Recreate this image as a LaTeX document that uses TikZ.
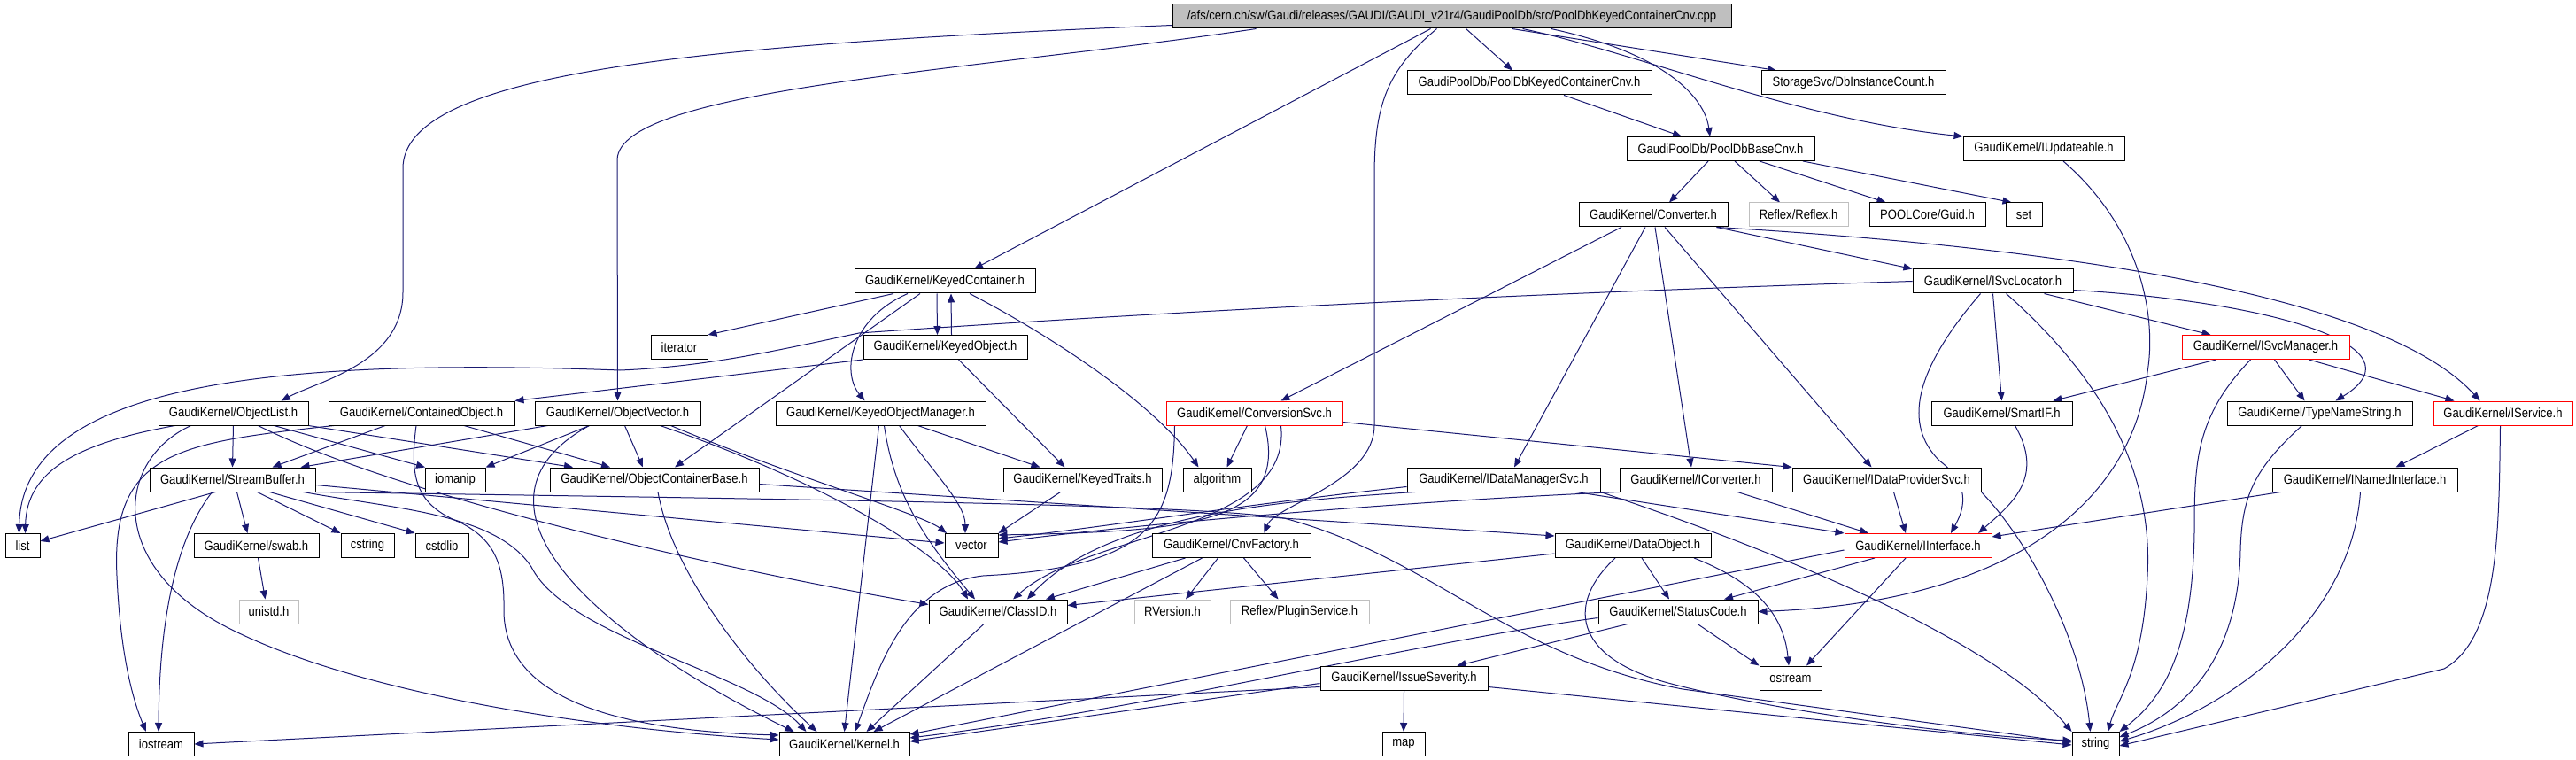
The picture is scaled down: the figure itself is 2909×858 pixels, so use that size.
\documentclass[tikz,border=0pt]{standalone}
\usepackage{fontspec}
\setmainfont{Liberation Sans}[FakeStretch=0.87]
\usetikzlibrary{arrows.meta}
\definecolor{edgeblue}{RGB}{25,25,112}
\definecolor{rootgray}{RGB}{191,191,191}
\definecolor{nodocgray}{RGB}{191,191,191}
\pgfdeclarelayer{bg}
\pgfsetlayers{bg,main}
\begin{document}
\begin{tikzpicture}[
    x=1pt, y=-1pt,
    font=\fontsize{15}{18}\selectfont,
    inc/.style={
        draw,
        line width=1pt,
        fill=white,
        inner sep=0pt,
        minimum height=27pt,
        minimum width=#1
    },
    truncated/.style={inc=#1, draw=red},
    nodoc/.style={inc=#1, draw=nodocgray},
    dep/.style={draw=edgeblue, line width=1pt, -{Triangle[length=10pt,width=8pt]}}
]
    \useasboundingbox (0,0) rectangle (2909,858);

    \node[inc=631pt, fill=rootgray] (root) at (1639.5,18.5)
        {/afs/cern.ch/sw/Gaudi/releases/GAUDI/GAUDI\_v21r4/GaudiPoolDb/src/PoolDbKeyedContainerCnv.cpp};
    \node[inc=276pt] (pkcnvh) at (1727,93.5) {GaudiPoolDb/PoolDbKeyedContainerCnv.h};
    \node[inc=208pt] (dbinst) at (2093,93.5) {StorageSvc/DbInstanceCount.h};
    \node[inc=212pt] (basecnv) at (1943,168) {GaudiPoolDb/PoolDbBaseCnv.h};
    \node[inc=182pt] (iupd) at (2308,168) {GaudiKernel/IUpdateable.h};
    \node[inc=168pt] (converter) at (1867,242.5) {GaudiKernel/Converter.h};
    \node[nodoc=112pt] (reflex) at (2031,242.5) {Reflex/Reflex.h};
    \node[inc=131pt] (guid) at (2176.5,242.5) {POOLCore/Guid.h};
    \node[inc=41pt] (set) at (2285.5,242.5) {set};
    \node[inc=204pt] (keyedcont) at (1067,317.5) {GaudiKernel/KeyedContainer.h};
    \node[inc=181pt] (svcloc) at (2250.5,317.5) {GaudiKernel/ISvcLocator.h};
    \node[inc=64pt] (iterator) at (767,392) {iterator};
    \node[inc=185pt] (keyedobj) at (1067.5,392) {GaudiKernel/KeyedObject.h};
    \node[truncated=189pt] (svcmgr) at (2558.5,392) {GaudiKernel/ISvcManager.h};
    \node[inc=169pt] (objlist) at (263.5,466.5) {GaudiKernel/ObjectList.h};
    \node[inc=210pt] (containedobj) at (476,466.5) {GaudiKernel/ContainedObject.h};
    \node[inc=187pt] (objvector) at (697.5,466.5) {GaudiKernel/ObjectVector.h};
    \node[inc=237pt] (kom) at (994.5,466.5) {GaudiKernel/KeyedObjectManager.h};
    \node[truncated=199pt] (convsvc) at (1416.5,466.5) {GaudiKernel/ConversionSvc.h};
    \node[inc=159pt] (smartif) at (2260.5,466.5) {GaudiKernel/SmartIF.h};
    \node[inc=209pt] (typename) at (2619.5,466.5) {GaudiKernel/TypeNameString.h};
    \node[truncated=157pt] (iservice) at (2826.5,466.5) {GaudiKernel/IService.h};
    \node[inc=187pt] (streambuf) at (262.5,541.5) {GaudiKernel/StreamBuffer.h};
    \node[inc=68pt] (iomanip) at (514,541.5) {iomanip};
    \node[inc=236pt] (ocb) at (739,541.5) {GaudiKernel/ObjectContainerBase.h};
    \node[inc=179pt] (keyedtraits) at (1222.5,541.5) {GaudiKernel/KeyedTraits.h};
    \node[inc=77pt] (algorithm) at (1374.5,541.5) {algorithm};
    \node[inc=218pt] (idms) at (1698,541.5) {GaudiKernel/IDataManagerSvc.h};
    \node[inc=172pt] (iconv) at (1915,541.5) {GaudiKernel/IConverter.h};
    \node[inc=213pt] (idps) at (2130.5,541.5) {GaudiKernel/IDataProviderSvc.h};
    \node[inc=209pt] (inamed) at (2670.5,541.5) {GaudiKernel/INamedInterface.h};
    \node[inc=39pt] (list) at (25.5,616) {list};
    \node[inc=141pt] (swab) at (289.5,616) {GaudiKernel/swab.h};
    \node[inc=60pt] (cstring) at (415,616) {cstring};
    \node[inc=60pt] (cstdlib) at (499,616) {cstdlib};
    \node[inc=60pt] (vector) at (1097,616) {vector};
    \node[inc=179pt] (cnvfactory) at (1390.5,616) {GaudiKernel/CnvFactory.h};
    \node[inc=176pt] (dataobj) at (1844,616) {GaudiKernel/DataObject.h};
    \node[truncated=166pt] (iinterface) at (2166,616) {GaudiKernel/IInterface.h};
    \node[nodoc=67pt] (unistd) at (303.5,690.5) {unistd.h};
    \node[inc=156pt] (classid) at (1127,690.5) {GaudiKernel/ClassID.h};
    \node[nodoc=86pt] (rversion) at (1324,690.5) {RVersion.h};
    \node[nodoc=157pt] (plugin) at (1467.5,690.5) {Reflex/PluginService.h};
    \node[inc=180pt] (statuscode) at (1895,690.5) {GaudiKernel/StatusCode.h};
    \node[inc=189pt] (issue) at (1585.5,765.5) {GaudiKernel/IssueSeverity.h};
    \node[inc=70pt] (ostream) at (2022,765.5) {ostream};
    \node[inc=74pt] (iostream) at (182,840) {iostream};
    \node[inc=147pt] (kernel) at (953.5,840) {GaudiKernel/Kernel.h};
    \node[inc=48pt] (map) at (1585,840) {map};
    \node[inc=53pt] (string) at (2366.5,840) {string};

    \begin{pgfonlayer}{bg}
    % source file
    \draw[dep] ([xshift=16pt]root.south) -- ([xshift=-19pt]pkcnvh.north);
    \draw[dep] ([xshift=-24pt]root.south) -- ([xshift=33pt]keyedcont.north);
    \draw[dep] ([xshift=68pt]root.south) -- ([xshift=-87pt]dbinst.north);
    \draw[dep] ([xshift=112pt]root.south) .. controls (1880,60) and (1925,110) .. ([xshift=-12pt]basecnv.north);
    \draw[dep] ([xshift=80pt]root.south) .. controls (1850,60) and (2030,135) .. (iupd.north west);
    \draw[dep] ([yshift=-10pt]root.west) .. controls (800,50) and (455,80) .. (455,190)
        -- (455,330) .. controls (455,410) and (360,430) .. ([xshift=54pt]objlist.north);
    \draw[dep] ([xshift=-221pt]root.south) .. controls (1100,80) and (700,100) .. (697,180) -- (objvector.north);
    \draw[dep] ([xshift=-17pt]root.south) .. controls (1565,80) and (1552,120) .. (1552,200)
        -- (1552,480) .. controls (1552,545) and (1440,570) .. ([xshift=37pt]cnvfactory.north);

    % pool converters
    \draw[dep] ([xshift=39pt]pkcnvh.south) -- ([xshift=-44pt]basecnv.north);
    \draw[dep] ([xshift=-14pt]basecnv.south) -- ([xshift=18pt]converter.north);
    \draw[dep] ([xshift=16pt]basecnv.south) -- ([xshift=-21pt]reflex.north);
    \draw[dep] ([xshift=44pt]basecnv.south) -- ([xshift=-47pt]guid.north);
    \draw[dep] ([xshift=93pt]basecnv.south) -- ([xshift=-14pt]set.north);
    \draw[dep] ([xshift=22pt]iupd.south) .. controls (2420,260) and (2435,360) .. (2425,420)
        .. controls (2410,560) and (2280,680) .. (statuscode.east);
    \draw[dep] ([xshift=-36pt]converter.south) -- ([xshift=30pt]convsvc.north);
    \draw[dep] ([xshift=-9pt]converter.south) -- ([xshift=12pt]idms.north);
    \draw[dep] ([xshift=2pt]converter.south) -- ([xshift=-5pt]iconv.north);
    \draw[dep] ([xshift=13pt]converter.south) -- ([xshift=-17pt]idps.north);
    \draw[dep] ([xshift=-13pt]converter.south east) -- (svcloc.north west);
    \draw[dep] ([xshift=-13pt]converter.south east) .. controls (2250,275) and (2680,320) .. ([xshift=-26pt]iservice.north);

    % keyed container
    \draw[dep] ([xshift=-58pt]keyedcont.south) -- (iterator.north east);
    \draw[dep] ([xshift=-42pt]keyedcont.south) .. controls (960,360) and (950,420) .. ([xshift=-18pt]kom.north);
    \draw[dep] ([xshift=-28pt]keyedcont.south) -- ([xshift=23pt]ocb.north);
    \draw[dep] ([xshift=-9pt]keyedcont.south) -- ([xshift=-9pt]keyedobj.north);
    \draw[dep] ([xshift=28pt]keyedcont.south) .. controls (1170,370) and (1300,450) .. ([xshift=-21pt]algorithm.north);
    \draw[dep] ([xshift=7pt]keyedobj.north) -- ([xshift=7pt]keyedcont.south);
    \draw[dep] ([xshift=15pt]keyedobj.south) -- ([xshift=-20pt]keyedtraits.north);
    \draw[dep] (keyedobj.south west) -- (containedobj.north east);

    % services
    \draw[dep] (svcloc.west) .. controls (1600,335) and (1200,360) .. (970,376)
        .. controls (880,395) and (800,414) .. (700,418)
        .. controls (320,404) and (25,430) .. ([xshift=-4pt]list.north);
    \draw[dep] ([xshift=-14pt]svcloc.south) .. controls (2160,420) and (2150,480) .. (2190,520)
        .. controls (2230,550) and (2215,580) .. ([xshift=37pt]iinterface.north);
    \draw[dep] (svcloc.south) -- (smartif.north);
    \draw[dep] ([xshift=15pt]svcloc.south) .. controls (2400,450) and (2430,560) .. (2425,650)
        .. controls (2420,760) and (2390,790) .. ([xshift=14pt]string.north);
    \draw[dep] ([xshift=58pt]svcloc.south) -- ([xshift=-62pt]svcmgr.north);
    \draw[dep] ([yshift=-10pt]svcloc.east) .. controls (2560,340) and (2740,390) .. ([xshift=18pt]typename.north);
    \draw[dep] ([xshift=-56pt]svcmgr.south) -- ([xshift=58pt]smartif.north);
    \draw[dep] ([xshift=10pt]svcmgr.south) -- ([xshift=-17pt]typename.north);
    \draw[dep] ([xshift=49pt]svcmgr.south) -- ([xshift=-55pt]iservice.north);
    \draw[dep] ([xshift=-17pt]svcmgr.south) .. controls (2480,470) and (2478,520) .. (2478,600)
        .. controls (2476,740) and (2440,790) .. (string.north east);
    \draw[dep] ([xshift=-20pt]typename.south) .. controls (2545,530) and (2532,560) .. (2530,620)
        .. controls (2528,760) and (2450,810) .. ([yshift=8pt]string.east);
    \draw[dep] ([xshift=-28pt]iservice.south) -- ([xshift=35pt]inamed.north);
    \draw[dep] ([xshift=-3pt]iservice.south) .. controls (2822,600) and (2822,720) .. (2760,755)
        -- ([yshift=-2pt]string.east);
    \draw[dep] ([xshift=-95pt]inamed.south) -- ([yshift=-4pt]iinterface.north east);
    \draw[dep] ([xshift=-5pt]inamed.south) .. controls (2655,700) and (2520,800) .. ([yshift=3pt]string.east);
    \draw[dep] ([xshift=15pt]smartif.south) .. controls (2310,540) and (2270,570) .. ([xshift=68pt]iinterface.north);
    \draw[dep] ([xshift=8pt]idps.south) -- ([xshift=-14pt]iinterface.north);
    \draw[dep] (idps.south east) .. controls (2290,610) and (2350,720) .. ([xshift=-6pt]string.north);
    \draw[dep] ([xshift=47pt]iconv.south) -- ([xshift=-56pt]iinterface.north);
    \draw[dep] (iconv.south west) .. controls (1600,565) and (1300,590) .. ([yshift=4pt]vector.east);
    \draw[dep] ([yshift=-8pt]idms.west) .. controls (1400,570) and (1250,595) .. ([yshift=8pt]vector.east);
    \draw[dep] ([xshift=82pt]idms.south) -- (iinterface.north west);
    \draw[dep] ([xshift=-100pt]idms.south) .. controls (1450,565) and (1250,580) .. ([xshift=33pt]classid.north);
    \draw[dep] (idms.south east) .. controls (2000,620) and (2250,720) .. (string.north west);
    \draw[dep] ([xshift=-8pt]convsvc.south) -- ([xshift=11pt]algorithm.north);
    \draw[dep] ([xshift=12pt]convsvc.south) .. controls (1455,590) and (1350,600) .. ([yshift=12pt]vector.east);
    \draw[dep] ([xshift=30pt]convsvc.south) .. controls (1460,600) and (1230,600) .. ([xshift=17pt]classid.north);
    \draw[dep] ([xshift=-90pt]convsvc.south) .. controls (1325,590) and (1300,640) .. (1110,650)
        .. controls (1020,660) and (990,760) .. ([xshift=12pt]kernel.north);
    \draw[dep] ([yshift=-10pt]convsvc.east) -- (idps.north west);

    % factory, data object, status code
    \draw[dep] ([xshift=-52pt]cnvfactory.south) -- ([xshift=54pt]classid.north);
    \draw[dep] ([xshift=-33pt]cnvfactory.south) -- ([xshift=33pt]kernel.north);
    \draw[dep] ([xshift=-15pt]cnvfactory.south) -- ([xshift=15pt]rversion.north);
    \draw[dep] ([xshift=14pt]cnvfactory.south) -- ([xshift=-24pt]plugin.north);
    \draw[dep] ([xshift=-16pt]classid.south) -- ([xshift=25pt]kernel.north);
    \draw[dep] ([yshift=-9pt]dataobj.west) -- ([yshift=7pt]classid.east);
    \draw[dep] ([xshift=10pt]dataobj.south) -- ([xshift=-10pt]statuscode.north);
    \draw[dep] ([xshift=69pt]dataobj.south) .. controls (1990,660) and (2015,700) .. ([xshift=-2pt]ostream.north);
    \draw[dep] ([xshift=-20pt]dataobj.south) .. controls (1770,680) and (1775,740) .. (1880,770)
        .. controls (1990,800) and (2200,830) .. ([yshift=4pt]string.west);
    \draw[dep] ([xshift=-49pt]iinterface.south) -- ([xshift=52pt]statuscode.north);
    \draw[dep] ([xshift=-14pt]iinterface.south) -- ([xshift=18pt]ostream.north);
    \draw[dep] ([yshift=-5pt]iinterface.west) -- ([yshift=11pt]kernel.east);
    \draw[dep] ([xshift=-57pt]statuscode.south) -- ([xshift=60pt]issue.north);
    \draw[dep] ([xshift=22pt]statuscode.south) -- (ostream.north west);
    \draw[dep] ([yshift=-7pt]statuscode.west) .. controls (1600,725) and (1300,800) .. ([yshift=7pt]kernel.east);
    \draw[dep] (issue.south) -- (map.north);
    \draw[dep] ([yshift=-6pt]issue.west) -- ([yshift=3pt]kernel.east);
    \draw[dep] ([yshift=-10pt]issue.west) -- (iostream.east);
    \draw[dep] ([yshift=-10pt]issue.east) -- ([yshift=-1pt]string.west);

    % object containers
    \draw[dep] ([xshift=-66pt]objlist.south) .. controls (90,500) and (30,530) .. ([xshift=3pt]list.north);
    \draw[dep] ([xshift=-48pt]objlist.south) .. controls (130,520) and (120,640) .. (260,710)
        .. controls (420,790) and (700,825) .. ([yshift=5pt]kernel.west);
    \draw[dep] (objlist.south) -- (streambuf.north);
    \draw[dep] ([xshift=28pt]objlist.south) .. controls (450,560) and (800,640) .. ([yshift=8pt]classid.west);
    \draw[dep] ([xshift=46pt]objlist.south) -- ([xshift=-34pt]iomanip.north);
    \draw[dep] (objlist.south east) -- ([xshift=-92pt]ocb.north);
    \draw[dep] ([xshift=-99pt]containedobj.south) .. controls (200,500) and (125,510) .. (132,650)
        .. controls (136,740) and (150,790) .. ([xshift=-17pt]iostream.north);
    \draw[dep] ([xshift=-41pt]containedobj.south) -- ([xshift=45pt]streambuf.north);
    \draw[dep] ([xshift=-6pt]containedobj.south) .. controls (462,540) and (470,570) .. (520,590)
        .. controls (560,610) and (570,640) .. (569,690)
        .. controls (570,790) and (700,825) .. ([yshift=10pt]kernel.west);
    \draw[dep] ([xshift=48pt]containedobj.south) -- ([xshift=-50pt]ocb.north);
    \draw[dep] ([xshift=-79pt]objvector.south) -- ([xshift=77pt]streambuf.north);
    \draw[dep] ([xshift=-32pt]objvector.south) -- (iomanip.north east);
    \draw[dep] ([xshift=-32pt]objvector.south) .. controls (520,560) and (640,700) .. ([xshift=-57pt]kernel.north);
    \draw[dep] ([xshift=8pt]objvector.south) -- ([xshift=-13pt]ocb.north);
    \draw[dep] ([xshift=60pt]objvector.south) .. controls (900,540) and (1040,580) .. ([xshift=-28pt]vector.north);
    \draw[dep] ([xshift=48pt]objvector.south) .. controls (920,540) and (1060,620) .. ([xshift=-34pt]classid.north);
    \draw[dep] ([xshift=-2pt]kom.south) -- (kernel.north);
    \draw[dep] ([xshift=4pt]kom.south) .. controls (1010,560) and (1045,610) .. ([xshift=-26pt]classid.north);
    \draw[dep] ([xshift=21pt]kom.south) .. controls (1060,540) and (1090,570) .. ([xshift=-7pt]vector.north);
    \draw[dep] ([xshift=42pt]kom.south) -- ([xshift=-48pt]keyedtraits.north);
    \draw[dep] ([xshift=-25pt]keyedtraits.south) -- (vector.north east);
    \draw[dep] ([yshift=-5pt]ocb.east) -- ([yshift=11pt]dataobj.west);
    \draw[dep] ([xshift=4pt]ocb.south) .. controls (760,650) and (850,760) .. ([xshift=-31pt]kernel.north);

    % stream buffer
    \draw[dep] ([xshift=-19pt]streambuf.south) -- ([yshift=5pt]list.east);
    \draw[dep] ([xshift=-23pt]streambuf.south) .. controls (205,600) and (180,680) .. ([xshift=-3pt]iostream.north);
    \draw[dep] ([xshift=5pt]streambuf.south) -- ([xshift=-10pt]swab.north);
    \draw[dep] ([xshift=28pt]streambuf.south) -- (cstring.north west);
    \draw[dep] ([xshift=42pt]streambuf.south) -- (cstdlib.north west);
    \draw[dep] ([xshift=80pt]streambuf.south) .. controls (450,575) and (560,580) .. (600,640)
        .. controls (640,720) and (850,760) .. ([xshift=-43pt]kernel.north);
    \draw[dep] ([yshift=-6pt]streambuf.east) -- ([yshift=3pt]vector.west);
    \draw[dep] (streambuf.south east) .. controls (1000,565) and (1350,570) .. (1450,585)
        .. controls (1620,630) and (1700,740) .. (1900,778) -- ([yshift=2pt]string.west);
    \draw[dep] ([xshift=2pt]swab.south) -- ([xshift=-4pt]unistd.north);
    \end{pgfonlayer}
\end{tikzpicture}
\end{document}
